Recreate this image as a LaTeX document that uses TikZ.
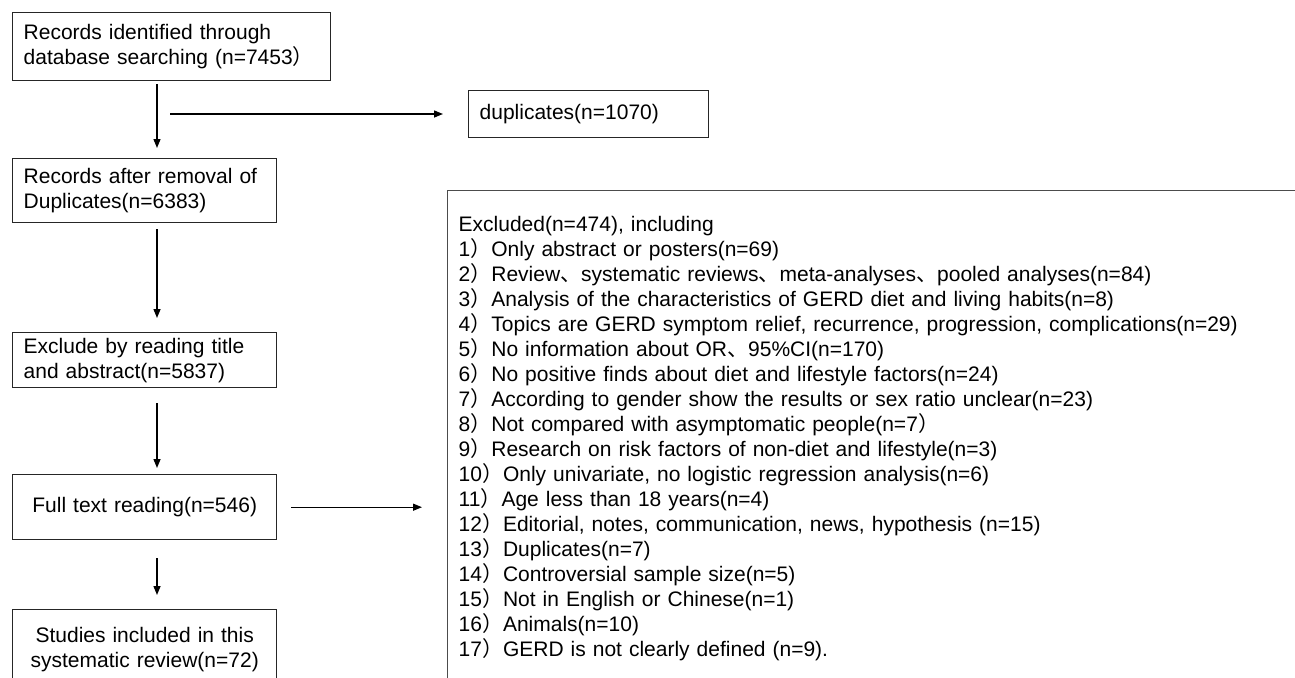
\documentclass[tikz,border=0pt]{standalone}
\usepackage{fontspec}
\setmainfont{Liberation Sans}
\newfontfamily\cjk{Noto Sans CJK SC}
\usetikzlibrary{arrows.meta}

\newcommand{\fwp}{{\cjk ）}}
\newcommand{\fwc}{{\cjk 、}}

\begin{document}
\begin{tikzpicture}[x=1pt,y=-1pt,
        box/.style={draw=black!85,line width=1.4pt,anchor=north west,inner xsep=11pt,inner ysep=0pt,
                    align=left,font=\fontsize{21}{25}\selectfont},
        link/.style={line width=1.4pt,-{Triangle[length=9pt,width=7pt]}}]
        \useasboundingbox (0,0) rectangle (1295,677);

        \coordinate (S) at (157,0);
        \coordinate (D) at (170,114);

        \node[box,text width=296pt,minimum height=68pt] (rec)    at (12,12)  {Records identified through\\database searching (n=7453\fwp};
        \node[box,text width=218pt,minimum height=47pt] (dup)    at (468,90) {duplicates(n=1070)};
        \node[box,text width=242pt,minimum height=64pt] (dedup)  at (12,158) {Records after removal of\\Duplicates(n=6383)};
        \node[box,text width=242pt,minimum height=55pt] (screen) at (12,332) {Exclude by reading title\\and abstract(n=5837)};
        \node[box,text width=242pt,minimum height=65pt,align=center] (full) at (12,474) {Full text reading(n=546)};
        \node[box,text width=242pt,minimum height=80pt,align=center] (incl) at (12,609) {Studies included in this\\systematic review(n=72)};

        \node[box,draw=black!70,text width=840pt,inner ysep=26pt] (excl) at (447,190) {Excluded(n=474), including\\
            1\fwp Only abstract or posters(n=69)\\
            2\fwp Review\fwc systematic reviews\fwc meta-analyses\fwc pooled analyses(n=84)\\
            3\fwp Analysis of the characteristics of GERD diet and living habits(n=8)\\
            4\fwp Topics are GERD symptom relief, recurrence, progression, complications(n=29)\\
            5\fwp No information about OR\fwc 95\%CI(n=170)\\
            6\fwp No positive finds about diet and lifestyle factors(n=24)\\
            7\fwp According to gender show the results or sex ratio unclear(n=23)\\
            8\fwp Not compared with asymptomatic people(n=7\fwp\\
            9\fwp Research on risk factors of non-diet and lifestyle(n=3)\\
            10\fwp Only univariate, no logistic regression analysis(n=6)\\
            11\fwp Age less than 18 years(n=4)\\
            12\fwp Editorial, notes, communication, news, hypothesis (n=15)\\
            13\fwp Duplicates(n=7)\\
            14\fwp Controversial sample size(n=5)\\
            15\fwp Not in English or Chinese(n=1)\\
            16\fwp Animals(n=10)\\
            17\fwp GERD is not clearly defined (n=9).};

        \draw[link,shorten <=3pt,shorten >=10pt]  (rec.south -| S)    -- (dedup.north -| S);
        \draw[link,shorten <=6pt,shorten >=14pt]  (dedup.south -| S)  -- (screen.north -| S);
        \draw[link,shorten <=15pt,shorten >=6pt]  (screen.south -| S) -- (full.north -| S);
        \draw[link,shorten <=18pt,shorten >=14pt] (full.south -| S)   -- (incl.north -| S);

        \draw[link,shorten >=25pt] (D) -- (D -| dup.west);
        \draw[link,shorten <=14pt,shorten >=25pt] (full.east) -- (full.east -| excl.west);
    \end{tikzpicture}
\end{document}
